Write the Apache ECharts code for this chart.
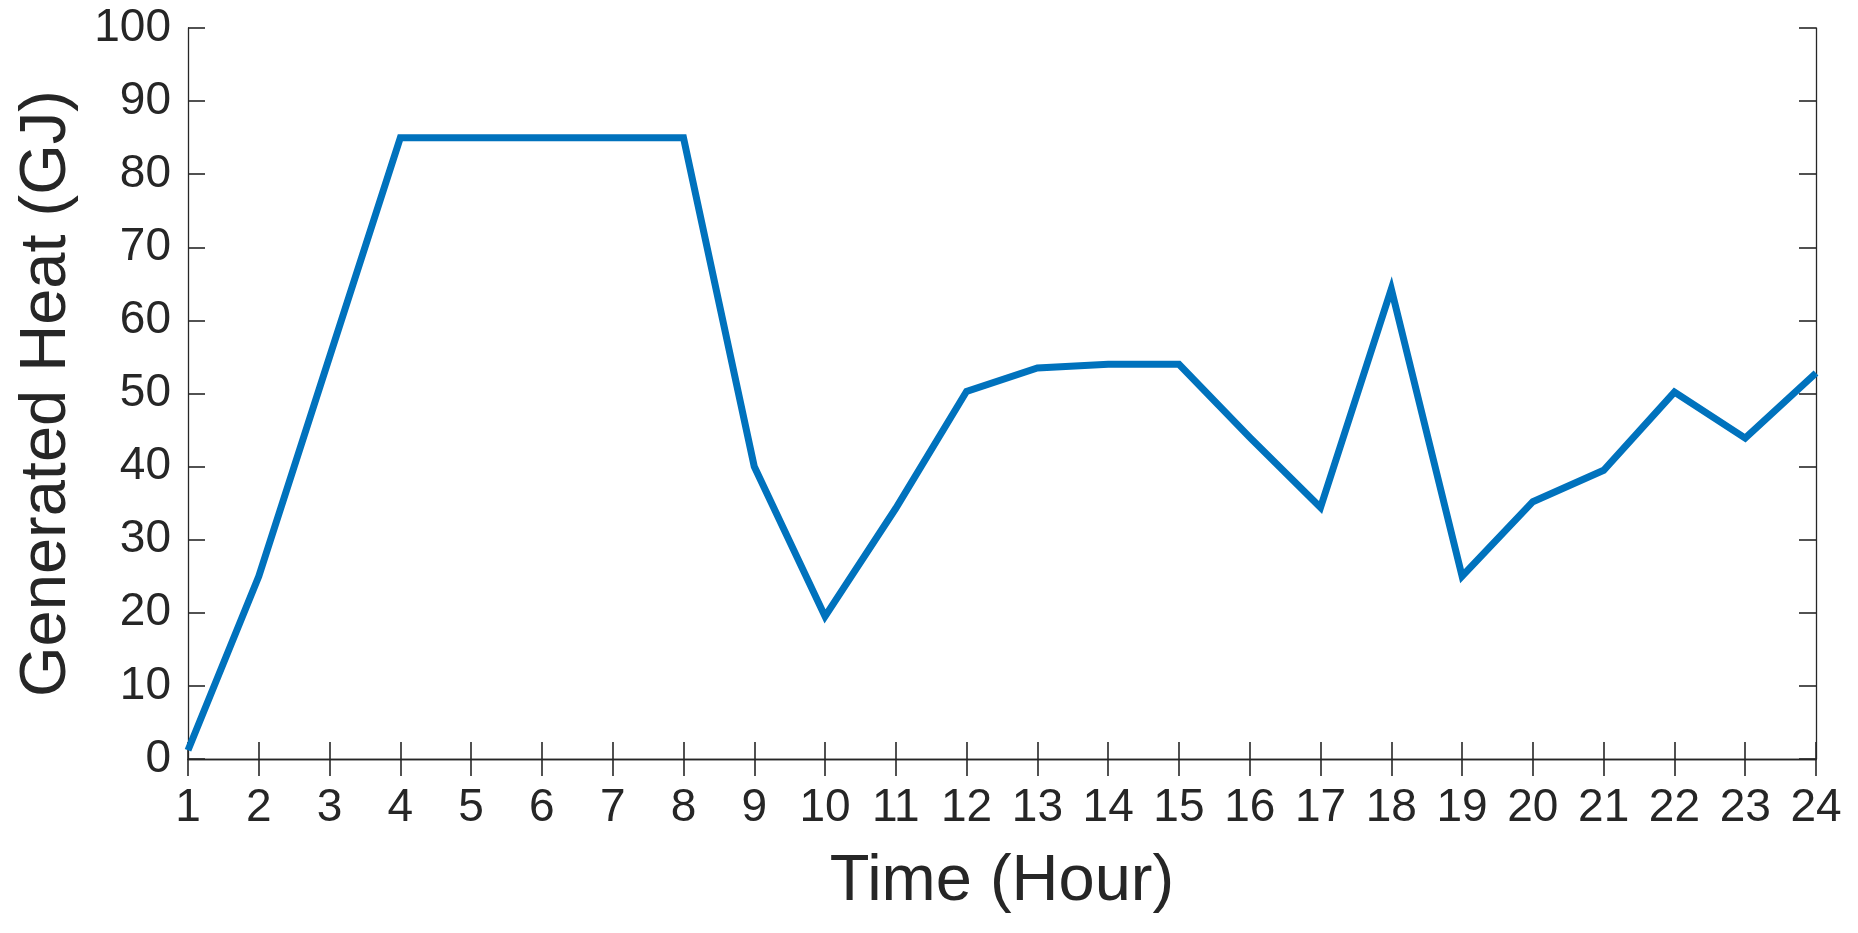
<!DOCTYPE html>
<html>
<head>
<meta charset="utf-8">
<script src="https://cdn.jsdelivr.net/npm/echarts@6/dist/echarts.min.js"></script>
<style>
html,body{margin:0;padding:0;background:#fff;}
#chart{width:1858px;height:933px;}
</style>
</head>
<body>
<div id="chart"></div>
<script>
const hours = [1,2,3,4,5,6,7,8,9,10,11,12,13,14,15,16,17,18,19,20,21,22,23,24];
const heat = [1.2, 25, 55, 85, 85, 85, 85, 85, 40, 19.5, 34.3, 50.3, 53.5, 54, 54, 44, 34.4, 64.3, 25, 35.2, 39.5, 50.2, 43.9, 52.8];
const xTitle = 'Time (Hour)';
const yTitle = 'Generated Heat (GJ)';

const FONT = '"Liberation Sans", Arial, sans-serif';
const INK = '#262626';

const chart = echarts.init(document.getElementById('chart'), null, {renderer:'canvas'});
const axisCommon = {
  axisLine: {show:true, lineStyle:{color:INK, width:1.3}},
  axisTick: {show:true, inside:true, length:17, lineStyle:{color:INK, width:1.6}},
  splitLine: {show:false}
};
chart.setOption({
  animation:false,
  backgroundColor:'#fff',
  grid:{left:188, right:42, top:28, bottom:174, containLabel:false},
  xAxis:[
    Object.assign({
      type:'value', min:1, max:24, interval:1, position:'bottom',
      name:xTitle, nameLocation:'middle', nameGap:91,
      nameTextStyle:{fontFamily:FONT, fontSize:65, color:INK},
      axisLabel:{fontFamily:FONT, fontSize:46, color:INK, margin:26}
    }, axisCommon),
    Object.assign({
      type:'value', min:1, max:24, interval:1, position:'top',
      axisLabel:{show:false}
    }, axisCommon)
  ],
  yAxis:[
    Object.assign({
      type:'value', min:0, max:100, interval:10, position:'left',
      name:yTitle, nameLocation:'middle', nameGap:108, nameRotate:90,
      nameTextStyle:{fontFamily:FONT, fontSize:65, color:INK},
      axisLabel:{fontFamily:FONT, fontSize:46, color:INK, margin:17}
    }, axisCommon),
    Object.assign({
      type:'value', min:0, max:100, interval:10, position:'right',
      axisLabel:{show:false}
    }, axisCommon)
  ],
  series:[{
    type:'line',
    xAxisIndex:0, yAxisIndex:0,
    data: hours.map((h,i)=>[h, heat[i]]),
    showSymbol:false,
    lineStyle:{color:'#0072BD', width:7, join:'miter'},
    clip:false
  }]
});
</script>
</body>
</html>
